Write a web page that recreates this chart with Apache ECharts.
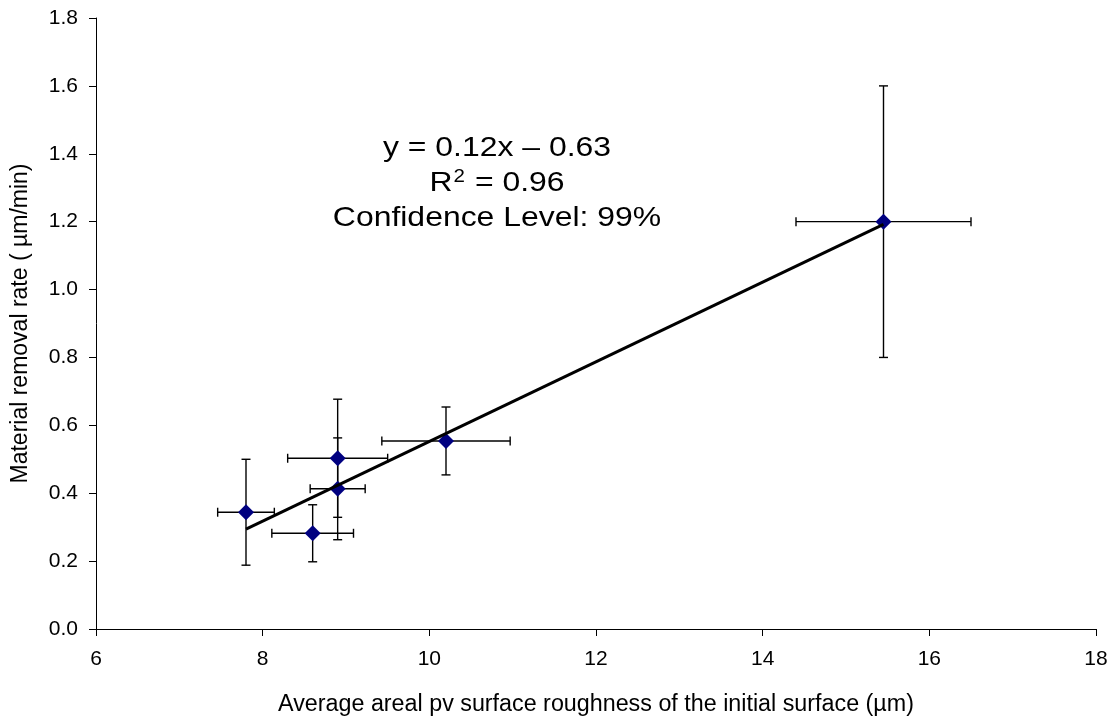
<!DOCTYPE html>
<html>
<head>
<meta charset="utf-8">
<title>Material removal rate vs. initial roughness</title>
<script src="https://cdn.jsdelivr.net/npm/echarts@6/dist/echarts.min.js"></script>
<style>
  html, body { margin: 0; padding: 0; background: #fff; }
  #chart { width: 1114px; height: 717px; }
</style>
</head>
<body>
<div id="chart"></div>
<script>
// Average areal pv roughness of the initial surface (µm)
const roughness = [7.8, 8.6, 8.9, 8.9, 10.2, 15.45];
// Material removal rate (µm/min)
const removalRate = [0.344, 0.282, 0.503, 0.413, 0.554, 1.2];
// Horizontal (roughness) and vertical (rate) error half-widths
const roughnessErr = [0.34, 0.49, 0.60, 0.33, 0.77, 1.05];
const rateErr = [0.156, 0.084, 0.174, 0.15, 0.10, 0.40];

const xTicks = { min: 6, max: 18, step: 2 };
const yTicks = { min: 0, max: 1.8, step: 0.2 };

// Regression annotation, one entry per line ({sup|…} marks a superscript)
const fitLines = ['y = 0.12x \u2013 0.63', 'R{sup|2} = 0.96', 'Confidence Level: 99%'];

// Least-squares line through the measurements, drawn across their x-range
function linearFit(xs, ys) {
  const n = xs.length;
  const mx = xs.reduce((a, b) => a + b, 0) / n;
  const my = ys.reduce((a, b) => a + b, 0) / n;
  let sxy = 0, sxx = 0;
  for (let i = 0; i < n; i++) {
    sxy += (xs[i] - mx) * (ys[i] - my);
    sxx += (xs[i] - mx) * (xs[i] - mx);
  }
  const slope = sxy / sxx;
  return { slope, intercept: my - slope * mx };
}
const fit = linearFit(roughness, removalRate);
const xLo = Math.min(...roughness), xHi = Math.max(...roughness);
const trend = [[xLo, fit.slope * xLo + fit.intercept], [xHi, fit.slope * xHi + fit.intercept]];

const points = roughness.map((x, i) => [x, removalRate[i]]);
const errData = roughness.map((x, i) => [x, removalRate[i], roughnessErr[i], rateErr[i]]);

const FONT = '"Liberation Sans", Arial, sans-serif';
const chart = echarts.init(document.getElementById('chart'));

function renderErrorBars(params, api) {
  const x = api.value(0), y = api.value(1), dx = api.value(2), dy = api.value(3);
  const top = api.coord([x, y + dy]);
  const bot = api.coord([x, y - dy]);
  const left = api.coord([x - dx, y]);
  const right = api.coord([x + dx, y]);
  const cap = 4.5;
  const style = { stroke: '#000', lineWidth: 1.4 };
  const seg = (x1, y1, x2, y2) => ({ type: 'line', shape: { x1, y1, x2, y2 }, style });
  return {
    type: 'group',
    children: [
      seg(top[0], top[1], bot[0], bot[1]),
      seg(top[0] - cap, top[1], top[0] + cap, top[1]),
      seg(bot[0] - cap, bot[1], bot[0] + cap, bot[1]),
      seg(left[0], left[1], right[0], right[1]),
      seg(left[0], left[1] - cap, left[0], left[1] + cap),
      seg(right[0], right[1] - cap, right[0], right[1] + cap)
    ]
  };
}

chart.setOption({
  animation: false,
  backgroundColor: '#fff',
  textStyle: { fontFamily: FONT },
  grid: { left: 96, right: 18, top: 18, bottom: 88, containLabel: false, outerBoundsMode: 'none' },
  xAxis: {
    type: 'value',
    min: xTicks.min, max: xTicks.max, interval: xTicks.step,
    name: 'Average areal pv surface roughness of the initial surface (\u00B5m)',
    nameLocation: 'middle', nameGap: 64,
    nameTextStyle: { fontFamily: FONT, fontSize: 23.3, color: '#000' },
    axisLine: { lineStyle: { color: '#000', width: 1 } },
    axisTick: { show: true, inside: false, length: 7, lineStyle: { color: '#000' } },
    axisLabel: { fontFamily: FONT, fontSize: 21, color: '#000', margin: 20 },
    splitLine: { show: false }
  },
  yAxis: {
    type: 'value',
    min: yTicks.min, max: yTicks.max, interval: yTicks.step,
    name: 'Material removal rate ( \u00B5m/min)',
    nameLocation: 'middle', nameGap: 64,
    nameTextStyle: { fontFamily: FONT, fontSize: 23, color: '#000' },
    axisLine: { show: true, lineStyle: { color: '#000', width: 1 } },
    axisTick: { show: true, inside: false, length: 7, lineStyle: { color: '#000' } },
    axisLabel: { fontFamily: FONT, fontSize: 21, color: '#000', margin: 18,
      formatter: v => v.toFixed(1) },
    splitLine: { show: false }
  },
  graphic: fitLines.map((t, i) => ({
    type: 'text',
    x: 497,
    y: 148 + i * 35.3,
    scaleX: 1.14,
    silent: true,
    style: {
      text: t,
      fontFamily: FONT, fontSize: 28, fill: '#000',
      align: 'center', verticalAlign: 'middle',
      rich: {
        sup: { fontFamily: FONT, fontSize: 18, fill: '#000', verticalAlign: 'top', padding: [0, 1, 12, 1] }
      }
    }
  })),
  series: [
    {
      type: 'custom',
      renderItem: renderErrorBars,
      data: errData,
      encode: { x: 0, y: 1 },
      z: 2,
      silent: true
    },
    {
      type: 'scatter',
      data: points,
      symbol: 'diamond',
      symbolSize: 16,
      itemStyle: { color: '#000080', opacity: 1 },
      z: 3,
      silent: true
    },
    {
      type: 'line',
      data: trend,
      showSymbol: false,
      lineStyle: { color: '#000', width: 3 },
      z: 4,
      silent: true
    }
  ]
});
</script>
</body>
</html>
